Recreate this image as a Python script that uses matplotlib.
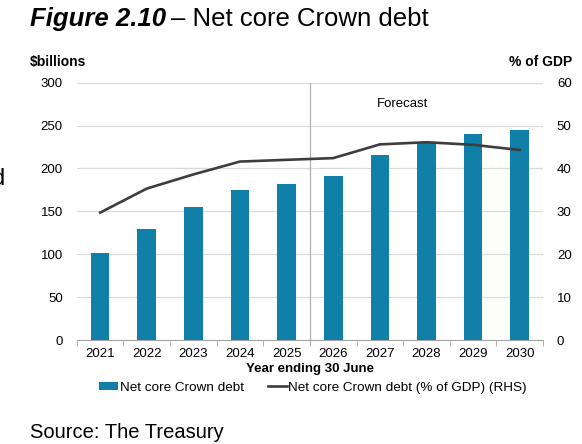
import numpy as np
import matplotlib.pyplot as plt

plt.rcParams['font.family'] = ['Liberation Sans', 'DejaVu Sans']

# data
years = ['2021', '2022', '2023', '2024', '2025', '2026', '2027', '2028', '2029', '2030']
debt_bn = [102, 129, 155, 175, 182, 191, 216, 231, 240, 245]
debt_pct_gdp = [29.7, 35.3, 38.6, 41.6, 42.0, 42.4, 45.6, 46.1, 45.5, 44.3]
left_ticks = [0, 50, 100, 150, 200, 250, 300]
right_ticks = [0, 10, 20, 30, 40, 50, 60]

BAR = '#1180A8'
LINE = '#3d3d3d'
GRID = '#d9d9d9'

fig = plt.figure(figsize=(5.82, 4.44), dpi=100)
ax = fig.add_axes([0.132, 0.234, 0.801, 0.580])
ax2 = ax.twinx()

x = np.arange(len(years))
ax.bar(x, debt_bn, width=0.4, color=BAR, zorder=3, label='Net core Crown debt')
ax2.plot(x, debt_pct_gdp, color=LINE, lw=1.9, zorder=4,
         label='Net core Crown debt (% of GDP) (RHS)')

ax.set_xlim(-0.5, len(years) - 0.5)
ax.set_ylim(0, 300)
ax2.set_ylim(0, 60)
ax.set_yticks(left_ticks)
ax2.set_yticks(right_ticks)
ax.yaxis.grid(True, color=GRID, lw=0.9, zorder=0)
ax.set_axisbelow(True)

for a in (ax, ax2):
    for s in ('top', 'left', 'right'):
        a.spines[s].set_visible(False)
    a.tick_params(axis='y', length=0, labelsize=9.5, pad=10)
ax2.spines['bottom'].set_visible(False)
ax.spines['bottom'].set_color('#a6a6a6')

ax.set_xticks(x)
ax.set_xticklabels(years, fontsize=9.5)
ax.set_xticks(np.arange(-0.5, len(years)), minor=True)
ax.tick_params(axis='x', which='major', length=0, pad=6)
ax.tick_params(axis='x', which='minor', length=4, color='#a6a6a6')
ax.set_xlabel('Year ending 30 June', fontsize=9.5, fontweight='bold', labelpad=2)

# forecast divider
ax.axvline(4.5, ymin=0, ymax=1, color='#b0b0b0', lw=0.9, zorder=2)
ax.text(6.48, 275, 'Forecast', ha='center', va='center', fontsize=9.5)

fig.text(0.052, 0.86, '$billions', fontsize=10, fontweight='bold', va='center')
fig.text(0.983, 0.86, '% of GDP', fontsize=10, fontweight='bold', va='center', ha='right')

# title
t = fig.text(0.052, 0.957, 'Figure 2.10', fontsize=18.5, fontweight='bold',
             fontstyle='italic', va='center')
fig.canvas.draw()
bb = t.get_window_extent()
fig.text(bb.x1 / fig.bbox.width + 0.008, 0.957, '\u2013 Net core Crown debt',
         fontsize=18.5, va='center')

# clipped fragment at left edge
fig.text(0.009, 0.597, 'd', fontsize=17, ha='right', va='center')

h1, l1 = ax.get_legend_handles_labels()
h2, l2 = ax2.get_legend_handles_labels()
fig.legend(h1 + h2, l1 + l2, loc='center', bbox_to_anchor=(0.538, 0.127), ncol=2,
           frameon=False, fontsize=9.7, handlelength=1.4, handletextpad=0.1,
           columnspacing=1.8, handleheight=0.6)

fig.text(0.052, 0.027, 'Source: The Treasury', fontsize=14.5, va='center')

fig.savefig('out.png', dpi=100)
